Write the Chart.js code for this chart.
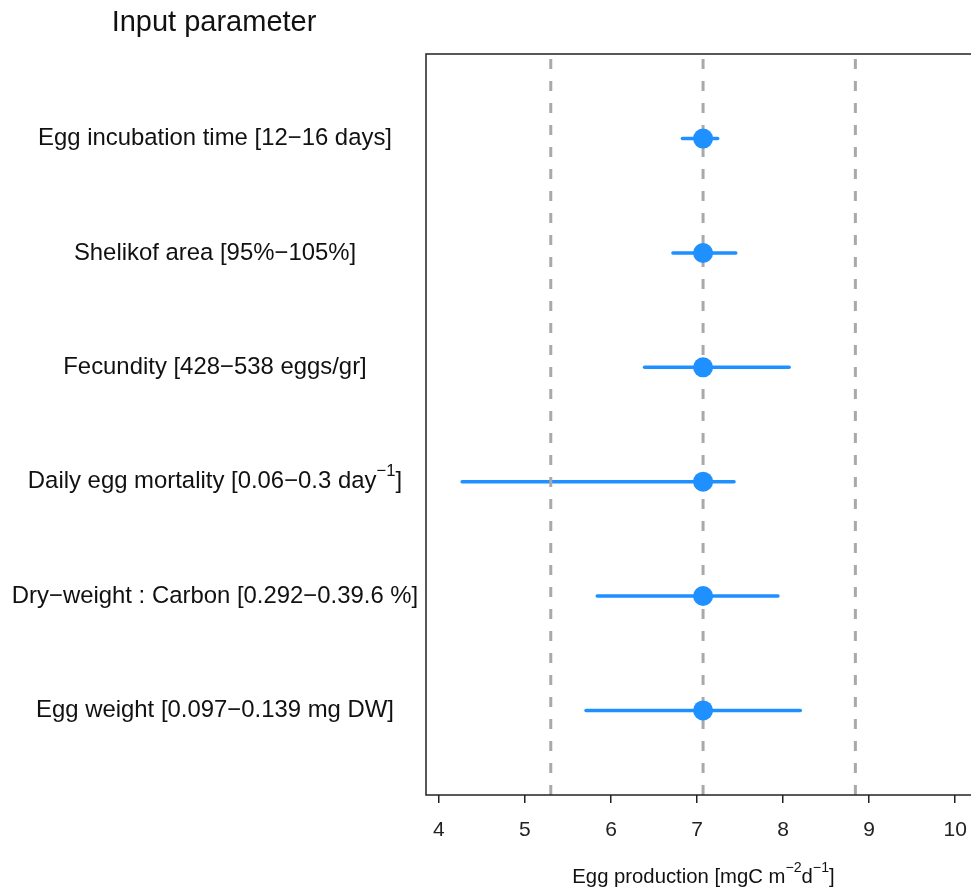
<!DOCTYPE html>
<html>
<head>
<meta charset="utf-8">
<script src="https://cdn.jsdelivr.net/npm/chart.js@4.4.1/dist/chart.umd.min.js"></script>
<style>
  html, body { margin:0; padding:0; background:#fff; overflow:hidden; }
  #wrap { width:971px; height:890px; overflow:hidden; }
</style>
</head>
<body>
<div id="wrap"><canvas id="chart" width="1000" height="890" style="width:1000px;height:890px;"></canvas></div>
<script>
// parameters, top to bottom; ^{..} marks a superscript
var categories = [
  'Egg incubation time [12−16 days]',
  'Shelikof area [95%−105%]',
  'Fecundity [428−538 eggs/gr]',
  'Daily egg mortality [0.06−0.3 day^{−1}]',
  'Dry−weight : Carbon [0.292−0.39.6 %]',
  'Egg weight [0.097−0.139 mg DW]'
];
var estimate = [7.07, 7.07, 7.07, 7.07, 7.07, 7.07];
var lower    = [6.83, 6.72, 6.39, 4.27, 5.84, 5.71];
var upper    = [7.24, 7.45, 8.07, 7.43, 7.94, 8.20];
var refLines = [5.30, 7.07, 8.84];
var xTicks   = [4, 5, 6, 7, 8, 9, 10];
var xTitle   = 'Egg production [mgC m^{−2}d^{−1}]';
var yTitle   = 'Input parameter';

var BLUE = '#1E90FF', GREY = '#A9A9A9';
var FONT = '"Liberation Sans", Arial, sans-serif';
var n = categories.length;
function rowY(i){ return n - i; }

var datasets = [];
// error bars
for (var i = 0; i < n; i++) {
  datasets.push({
    type: 'line', order: 3,
    data: [{x: lower[i], y: rowY(i)}, {x: upper[i], y: rowY(i)}],
    borderColor: BLUE, borderWidth: 3.5, borderCapStyle: 'round',
    pointRadius: 0, fill: false
  });
}
// reference dashed lines
refLines.forEach(function(v){
  datasets.push({
    type: 'line', order: 2,
    data: [{x: v, y: 0.26}, {x: v, y: 6.74}],
    borderColor: GREY, borderWidth: 3, borderDash: [10, 12],
    pointRadius: 0, fill: false
  });
});
// point estimates
datasets.push({
  type: 'scatter', order: 1,
  data: estimate.map(function(v, i){ return {x: v, y: rowY(i)}; }),
  backgroundColor: BLUE, borderColor: BLUE, pointRadius: 10, borderWidth: 0
});

function parts(text){
  var out = [], re = /\^\{([^}]*)\}/g, last = 0, m;
  while ((m = re.exec(text)) !== null) {
    if (m.index > last) out.push({t: text.slice(last, m.index), sup: false});
    out.push({t: m[1], sup: true});
    last = re.lastIndex;
  }
  if (last < text.length) out.push({t: text.slice(last), sup: false});
  return out;
}
function drawRich(ctx, text, cx, cy, size){
  var ps = parts(text), w = 0;
  ps.forEach(function(p){
    ctx.font = (p.sup ? size * 0.7 : size) + 'px ' + FONT;
    p.w = ctx.measureText(p.t).width; w += p.w;
  });
  var x = cx - w / 2;
  ctx.textBaseline = 'middle'; ctx.textAlign = 'left';
  ps.forEach(function(p){
    ctx.font = (p.sup ? size * 0.7 : size) + 'px ' + FONT;
    ctx.fillText(p.t, x, p.sup ? cy - size * 0.42 : cy);
    x += p.w;
  });
}

var frame = {
  id: 'frame',
  afterDraw: function(chart){
    var ctx = chart.ctx, a = chart.chartArea, ys = chart.scales.y;
    ctx.save();
    ctx.strokeStyle = '#222'; ctx.lineWidth = 1.5;
    ctx.strokeRect(a.left, a.top, a.right - a.left, a.bottom - a.top);
    ctx.fillStyle = '#111';
    categories.forEach(function(c, i){
      drawRich(ctx, c, 215, ys.getPixelForValue(rowY(i)), 23.9);
    });
    drawRich(ctx, yTitle, 214, 23, 29);
    drawRich(ctx, xTitle, (a.left + a.right) / 2, 877, 20.3);
    ctx.restore();
  }
};

new Chart(document.getElementById('chart'), {
  data: { datasets: datasets },
  options: {
    responsive: false, animation: false,
    layout: { padding: { left: 426, top: 54, right: 19, bottom: 0 } },
    plugins: { legend: { display: false }, tooltip: { enabled: false } },
    scales: {
      x: {
        type: 'linear', min: 3.85, max: 10.3,
        afterBuildTicks: function(s){ s.ticks = xTicks.map(function(v){ return {value: v}; }); },
        afterFit: function(s){ s.height = 95; },
        grid: { drawOnChartArea: false, drawTicks: true, tickLength: 8, color: '#222', lineWidth: 1.5 },
        border: { display: false },
        ticks: { color: '#222', font: { size: 21, family: FONT }, padding: 15, maxRotation: 0 }
      },
      y: { type: 'linear', min: 0.26, max: 6.74, display: false }
    }
  },
  plugins: [frame]
});
</script>
</body>
</html>
